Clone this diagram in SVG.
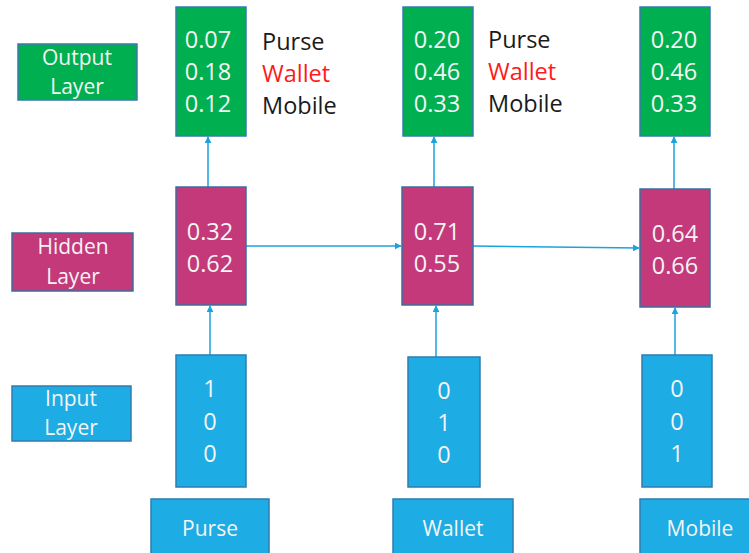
<svg xmlns="http://www.w3.org/2000/svg" width="749" height="553" viewBox="0 0 749 553">
<defs>
<style>
.g{fill:#00B050;stroke:#3A79B0;stroke-width:1.5}
.h{fill:#C3397A;stroke:#3A6F9E;stroke-width:1.5}
.b{fill:#1DACE3;stroke:#2F7CB0;stroke-width:1.5}
.t{font-family:"Open Sans","Liberation Sans",sans-serif;fill:#F4F4F4;text-anchor:middle}
.n{font-size:23.5px}
.l{font-size:21px}
.k{font-family:"Open Sans","Liberation Sans",sans-serif;font-size:23.5px;fill:#1a1a1a}
.c{stroke:#1BA3DD;stroke-width:1.5;fill:none;marker-end:url(#ah)}
</style>
<marker id="ah" viewBox="0 0 10 10" refX="9" refY="5" markerWidth="7" markerHeight="7" orient="auto" markerUnits="userSpaceOnUse">
<path d="M0,0 L10,5 L0,10 z" fill="#1BA3DD"/>
</marker>
</defs>
<rect width="749" height="553" fill="#fff"/>
<g id="connectors">
<line class="c" x1="210" y1="355" x2="210" y2="306"/>
<line class="c" x1="436" y1="357" x2="436" y2="306"/>
<line class="c" x1="675" y1="355" x2="675" y2="308"/>
<line class="c" x1="208" y1="187" x2="208" y2="137"/>
<line class="c" x1="434" y1="187" x2="434" y2="137"/>
<line class="c" x1="674" y1="189" x2="674" y2="137"/>
<line class="c" x1="246" y1="246" x2="401" y2="246"/>
<line class="c" x1="473" y1="246" x2="639" y2="248"/>
</g>
<g id="output-label"><rect class="g" x="18" y="44" width="119" height="56"/><text class="t l" x="77" y="65">Output</text><text class="t l" x="77" y="94">Layer</text></g>
<g id="hidden-label"><rect class="h" x="12" y="233" width="121" height="58"/><text class="t l" x="73" y="254">Hidden</text><text class="t l" x="73" y="284">Layer</text></g>
<g id="input-label"><rect class="b" x="12" y="386" width="119" height="55"/><text class="t l" x="71" y="406">Input</text><text class="t l" x="71" y="435">Layer</text></g>
<g id="out1"><rect class="g" x="176" y="7" width="70" height="129"/><text class="t n" x="208" y="48">0.07</text><text class="t n" x="208" y="80">0.18</text><text class="t n" x="208" y="112">0.12</text></g>
<g id="out1-labels"><text class="k" x="262" y="50">Purse</text><text class="k" x="262" y="82" style="fill:#FF1A1A">Wallet</text><text class="k" x="262" y="114">Mobile</text></g>
<g id="out2"><rect class="g" x="403" y="7" width="70" height="129"/><text class="t n" x="437" y="48">0.20</text><text class="t n" x="437" y="80">0.46</text><text class="t n" x="437" y="112">0.33</text></g>
<g id="out2-labels"><text class="k" x="488" y="48">Purse</text><text class="k" x="488" y="80" style="fill:#FF1A1A">Wallet</text><text class="k" x="488" y="112">Mobile</text></g>
<g id="out3"><rect class="g" x="640" y="7" width="70" height="129"/><text class="t n" x="674" y="48">0.20</text><text class="t n" x="674" y="80">0.46</text><text class="t n" x="674" y="112">0.33</text></g>
<g id="hid1"><rect class="h" x="176" y="187" width="70" height="118"/><text class="t n" x="210" y="240">0.32</text><text class="t n" x="210" y="272">0.62</text></g>
<g id="hid2"><rect class="h" x="402" y="187" width="71" height="118"/><text class="t n" x="437" y="240">0.71</text><text class="t n" x="437" y="272">0.55</text></g>
<g id="hid3"><rect class="h" x="640" y="189" width="70" height="118"/><text class="t n" x="675" y="242">0.64</text><text class="t n" x="675" y="274">0.66</text></g>
<g id="in1"><rect class="b" x="176" y="355" width="70" height="132"/><text class="t n" x="210" y="397">1</text><text class="t n" x="210" y="430">0</text><text class="t n" x="210" y="462">0</text></g>
<g id="in2"><rect class="b" x="408" y="357" width="72" height="130"/><text class="t n" x="444" y="399">0</text><text class="t n" x="444" y="431">1</text><text class="t n" x="444" y="463">0</text></g>
<g id="in3"><rect class="b" x="642" y="355" width="70" height="132"/><text class="t n" x="677" y="397">0</text><text class="t n" x="677" y="430">0</text><text class="t n" x="677" y="462">1</text></g>
<g id="w1"><rect class="b" x="151" y="499" width="118" height="60"/><text class="t l" x="210" y="536">Purse</text></g>
<g id="w2"><rect class="b" x="393" y="499" width="120" height="60"/><text class="t l" x="453" y="536">Wallet</text></g>
<g id="w3"><rect class="b" x="640" y="499" width="115" height="60"/><text class="t l" x="700" y="536">Mobile</text></g>
</svg>
